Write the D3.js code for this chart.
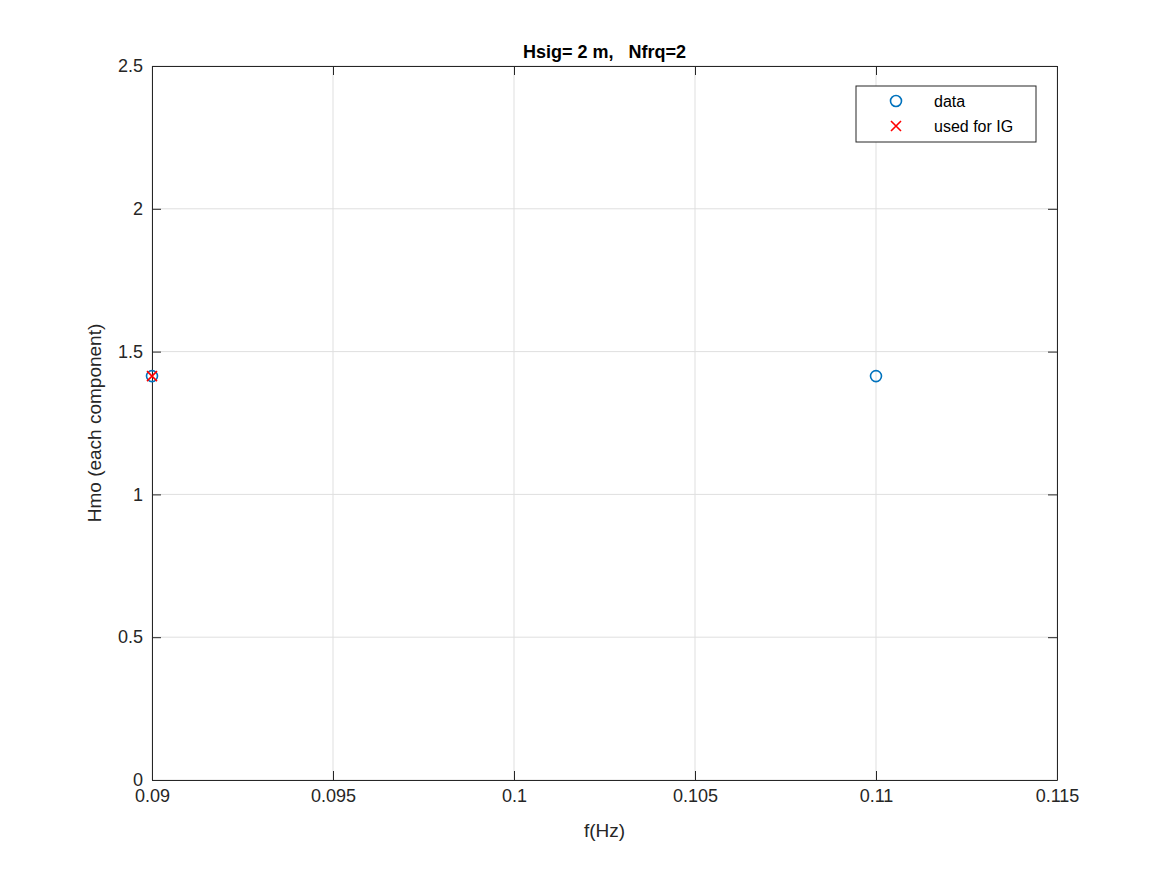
<!DOCTYPE html>
<html>
<head>
<meta charset="utf-8">
<script src="https://cdn.jsdelivr.net/npm/d3@7"></script>
<style>
body { margin: 0; background: #fff; }
text { font-family: "Liberation Sans", Arial, sans-serif; }
</style>
</head>
<body>
<svg id="chart" width="1167" height="875"></svg>
<script>
// data
var dataF = [0.09, 0.11];
var dataH = [1.4142, 1.4142];
var igF = [0.09];
var igH = [1.4142];
var xTicks = [0.09, 0.095, 0.1, 0.105, 0.11, 0.115];
var yTicks = [0, 0.5, 1, 1.5, 2, 2.5];

var svg = d3.select("#chart");
var L = 152, R = 1057, T = 66, B = 780;
var x = d3.scaleLinear().domain([0.09, 0.115]).range([L, R]);
var y = d3.scaleLinear().domain([0, 2.5]).range([B, T]);

// grid
svg.append("g").selectAll("line").data(xTicks).enter().append("line")
  .attr("x1", d => x(d)).attr("x2", d => x(d)).attr("y1", T).attr("y2", B)
  .attr("stroke", "#dfdfdf").attr("stroke-width", 1);
svg.append("g").selectAll("line").data(yTicks).enter().append("line")
  .attr("y1", d => y(d)).attr("y2", d => y(d)).attr("x1", L).attr("x2", R)
  .attr("stroke", "#dfdfdf").attr("stroke-width", 1);

// axes
var fmt = d => String(+d.toFixed(3));
svg.append("g").attr("transform", "translate(0," + B + ")")
  .call(d3.axisBottom(x).tickValues(xTicks).tickFormat(fmt).tickSizeInner(-9).tickSizeOuter(0).tickPadding(9));
svg.append("g").attr("transform", "translate(0," + T + ")")
  .call(d3.axisTop(x).tickValues(xTicks).tickFormat("").tickSizeInner(-9).tickSizeOuter(0));
svg.append("g").attr("transform", "translate(" + L + ",0)")
  .call(d3.axisLeft(y).tickValues(yTicks).tickFormat(fmt).tickSizeInner(-9).tickSizeOuter(0).tickPadding(9));
svg.append("g").attr("transform", "translate(" + R + ",0)")
  .call(d3.axisRight(y).tickValues(yTicks).tickFormat("").tickSizeInner(-9).tickSizeOuter(0));
svg.selectAll(".domain, .tick line").attr("stroke", "#262626");
svg.selectAll(".tick text").attr("font-size", 18).attr("fill", "#262626")
  .style("font-family", "'Liberation Sans', Arial, sans-serif");

// labels
svg.append("text").attr("x", (L + R) / 2).attr("y", 58).attr("text-anchor", "middle")
  .attr("font-size", 18).attr("font-weight", "bold").attr("fill", "#000")
  .attr("xml:space", "preserve").text("Hsig= 2 m,   Nfrq=2");
svg.append("text").attr("x", (L + R) / 2).attr("y", 837).attr("text-anchor", "middle")
  .attr("font-size", 19).attr("fill", "#262626").text("f(Hz)");
svg.append("text").attr("transform", "translate(101," + (T + B) / 2 + ") rotate(-90)")
  .attr("text-anchor", "middle").attr("font-size", 19).attr("fill", "#262626").text("Hmo (each component)");

// marks
svg.append("g").selectAll("circle").data(dataF).enter().append("circle")
  .attr("cx", d => x(d)).attr("cy", (d, i) => y(dataH[i])).attr("r", 5.5)
  .attr("fill", "none").attr("stroke", "#0072bd").attr("stroke-width", 1.6);
function cross(g, cx, cy) {
  g.append("path").attr("d", "M" + (cx - 5) + "," + (cy - 5) + "L" + (cx + 5) + "," + (cy + 5) +
    "M" + (cx - 5) + "," + (cy + 5) + "L" + (cx + 5) + "," + (cy - 5))
    .attr("stroke", "#ff0000").attr("stroke-width", 1.6);
}
var gx = svg.append("g");
igF.forEach((f, i) => cross(gx, x(f), y(igH[i])));

// legend
var lg = svg.append("g");
lg.append("rect").attr("x", 856).attr("y", 86).attr("width", 180).attr("height", 56)
  .attr("fill", "#fff").attr("stroke", "#262626").attr("stroke-width", 1);
lg.append("circle").attr("cx", 896).attr("cy", 101).attr("r", 5.5)
  .attr("fill", "none").attr("stroke", "#0072bd").attr("stroke-width", 1.6);
cross(lg, 896, 126);
lg.append("text").attr("x", 934).attr("y", 107).attr("font-size", 16).attr("fill", "#000").text("data");
lg.append("text").attr("x", 934).attr("y", 132).attr("font-size", 16).attr("fill", "#000").text("used for IG");
</script>
</body>
</html>
